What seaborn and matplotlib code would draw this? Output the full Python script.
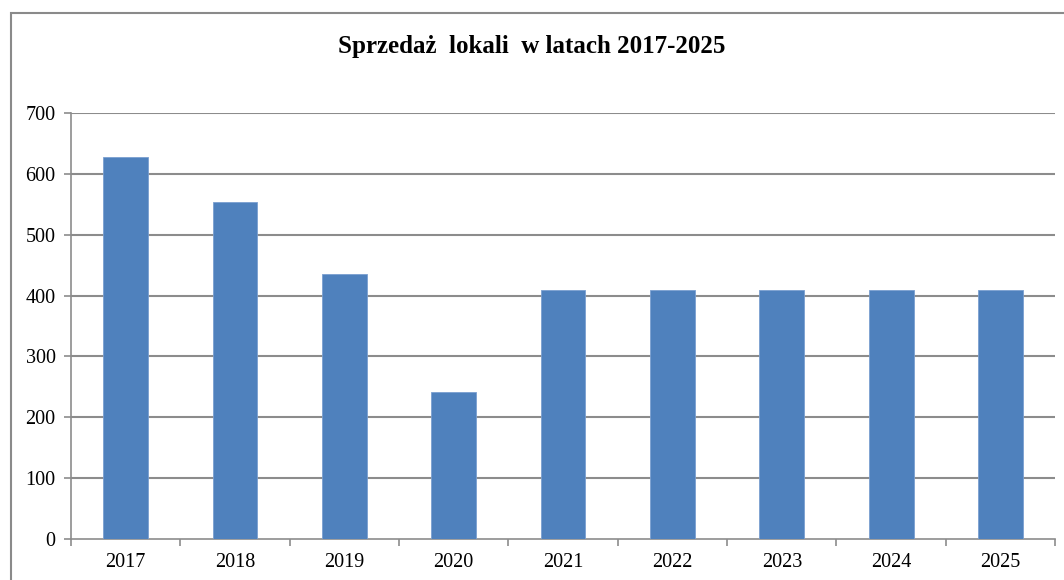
import matplotlib
matplotlib.use("Agg")
import matplotlib.pyplot as plt
import seaborn as sns
import pandas as pd
from matplotlib.patches import Rectangle
from matplotlib.ticker import FixedLocator, MultipleLocator

years = ["2017", "2018", "2019", "2020", "2021", "2022", "2023", "2024", "2025"]
sales = [628, 554, 435, 242, 410, 410, 410, 410, 410]
title = "Sprzedaż  lokali  w latach 2017-2025"

sns.set_theme(style="white")
plt.rcParams["font.family"] = ["Liberation Serif", "DejaVu Serif"]

df = pd.DataFrame({"rok": years, "sprzedaz": sales})

fig = plt.figure(figsize=(10.64, 5.8), dpi=100)
ax = fig.add_axes([0.0667, 0.0707, 0.925, 0.7343])

grid_c = "#8c8c8c"
sns.barplot(data=df, x="rok", y="sprzedaz", color="#4F81BD", width=0.41,
            saturation=1, edgecolor="#7a9fd0", linewidth=0.6, ax=ax, zorder=3)

ax.set_ylim(0, 700)
ax.set_xlim(-0.5, len(years) - 0.5)
ax.yaxis.set_major_locator(MultipleLocator(100))
ax.set_xlabel("")
ax.set_ylabel("")

for y in range(100, 701, 100):
    ax.axhline(y, color=grid_c, linewidth=1.5, zorder=1)

for s in ["top", "right"]:
    ax.spines[s].set_visible(False)
for s in ["left", "bottom"]:
    ax.spines[s].set_color(grid_c)
    ax.spines[s].set_linewidth(1.2)

ax.xaxis.set_minor_locator(FixedLocator([i - 0.5 for i in range(len(years) + 1)]))
ax.tick_params(axis="x", which="major", length=0, pad=10, labelsize=14.5, colors="black")
ax.tick_params(axis="x", which="minor", length=5, width=1.2, color=grid_c, direction="out", bottom=True)
ax.tick_params(axis="y", which="major", length=5, width=1.2, color=grid_c, direction="out", left=True,
               pad=6, labelsize=14.5, labelcolor="black")

fig.text(0.5, 0.92, title, ha="center", va="center", fontsize=18, fontweight="bold",
         color="black")

fig.patches.append(Rectangle((11 / 1064, -0.1), 1.2, (580 - 13) / 580 + 0.1,
                             transform=fig.transFigure, fill=False,
                             edgecolor="#8a8a8a", linewidth=1.5, zorder=0))

fig.savefig("out.png", dpi=100, facecolor="white")
